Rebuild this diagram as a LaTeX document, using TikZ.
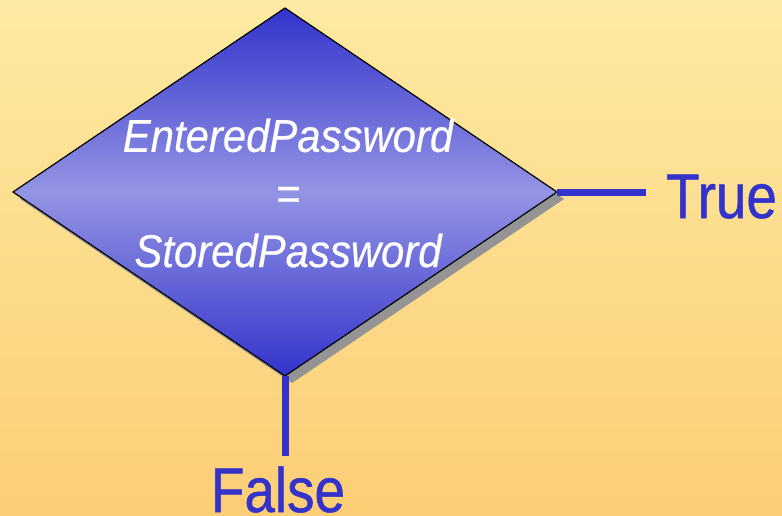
\documentclass[tikz,border=0pt]{standalone}
\usepackage{fontspec}
\setmainfont{Liberation Sans}
\newfontfamily\condfont[FakeStretch=0.91,FakeBold=0.4]{Liberation Sans}
\newfontfamily\answerfont[FakeStretch=0.87,FakeBold=0.8]{Liberation Sans}
\usetikzlibrary{shapes.geometric,shadows}

\definecolor{answer_blue}{HTML}{3333CC}
\definecolor{light_blue}{HTML}{9494E4}
\definecolor{bg_top}{HTML}{FDEAA2}
\definecolor{bg_bottom}{HTML}{FCCE76}

\begin{document}
\begin{tikzpicture}[x=1pt,y=-1pt,
	decision_node/.style={diamond,draw=black,line width=1.2pt,inner sep=0pt,outer sep=0pt,
		minimum width=544pt,minimum height=368pt,
		top color=answer_blue,bottom color=answer_blue,middle color=light_blue,
		general shadow={fill=black!42,shadow xshift=7pt,shadow yshift=-7pt}},
	cond_text/.style={text=white,align=center,inner sep=0pt,
		font=\condfont\itshape\fontsize{46}{57.6}\selectfont},
	answer_text/.style={text=answer_blue,inner sep=0pt,
		font=\answerfont\fontsize{63}{70}\selectfont},
	answer_line/.style={draw=answer_blue,line width=7pt}]
	\useasboundingbox (0,0) rectangle (782,515);
	\shade[top color=bg_top,bottom color=bg_bottom] (0,0) rectangle (782,515);

	\node[decision_node] (check) at (285,192) {};
	\node[cond_text] (cond) at (288,193) {EnteredPassword\\=\\StoredPassword};

	\coordinate (true_end) at (646,192);
	\coordinate (false_end) at (285,456);
	\draw[answer_line] (check.east) -- (true_end);
	\draw[answer_line] (check.south) -- (false_end);

	\node[answer_text,anchor=base west] (true_label) at (666,218) {True};
	\node[answer_text,anchor=base] (false_label) at (278,512) {False};
\end{tikzpicture}
\end{document}
